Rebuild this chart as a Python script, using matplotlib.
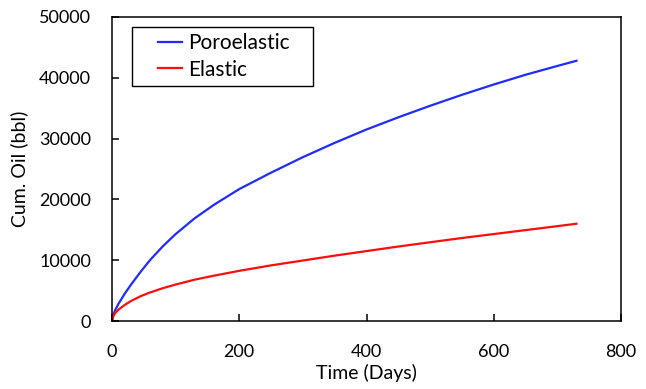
import matplotlib.pyplot as plt
from matplotlib.legend_handler import HandlerLine2D

plt.rcParams['font.family'] = ['Lato', 'DejaVu Sans']

days = [0, 2, 5, 10, 20, 30, 45, 60, 80, 100, 130, 160, 200, 250, 300, 350,
        400, 450, 500, 550, 600, 650, 700, 730]
poroelastic = [0, 1000, 1800, 2800, 4500, 6000, 8100, 10050, 12300, 14300,
               16900, 19100, 21700, 24400, 26950, 29300, 31500, 33500, 35400,
               37200, 38900, 40500, 41950, 42800]
elastic = [0, 800, 1300, 1850, 2650, 3300, 4080, 4700, 5400, 6000, 6800,
           7450, 8250, 9150, 9950, 10750, 11500, 12250, 12950, 13650, 14300,
           14950, 15600, 16000]

fig = plt.figure(figsize=(6.46, 3.89), dpi=100)
ax = fig.add_axes([0.1734, 0.1748, 0.7879, 0.7815])

ax.plot(days, poroelastic, color='#1f2bff', lw=1.6, label='Poroelastic')
ax.plot(days, elastic, color='#ff0d0d', lw=1.6, label='Elastic')

ax.set_xlim(0, 800)
ax.set_ylim(0, 50000)
ax.set_xticks([0, 200, 400, 600, 800])
ax.set_yticks([0, 10000, 20000, 30000, 40000, 50000])

for s in ax.spines.values():
    s.set_linewidth(1.1)
ax.tick_params(direction='in', length=5, width=1.1, labelsize=13)
ax.tick_params(axis='x', pad=16.5)
ax.tick_params(axis='y', pad=15)

ax.set_xlabel('Time (Days)', fontsize=14, labelpad=3)
ax.set_ylabel('Cum. Oil (bbl)', fontsize=14, labelpad=8)

# legend box spans a fixed area like the original
leg = ax.legend(loc='upper left', bbox_to_anchor=(0.039, 0.967, 0.356, 0.0),
                mode='expand', fontsize=15, fancybox=False,
                edgecolor='black', framealpha=1,
                handlelength=2.1, handletextpad=0.3, borderpad=0.3,
                labelspacing=0.3, borderaxespad=0,
                handler_map={ax.lines[0]: HandlerLine2D(xpad=0.95),
                             ax.lines[1]: HandlerLine2D(xpad=0.95)})
leg.get_frame().set_linewidth(1.0)

fig.savefig('out.png', dpi=100)
